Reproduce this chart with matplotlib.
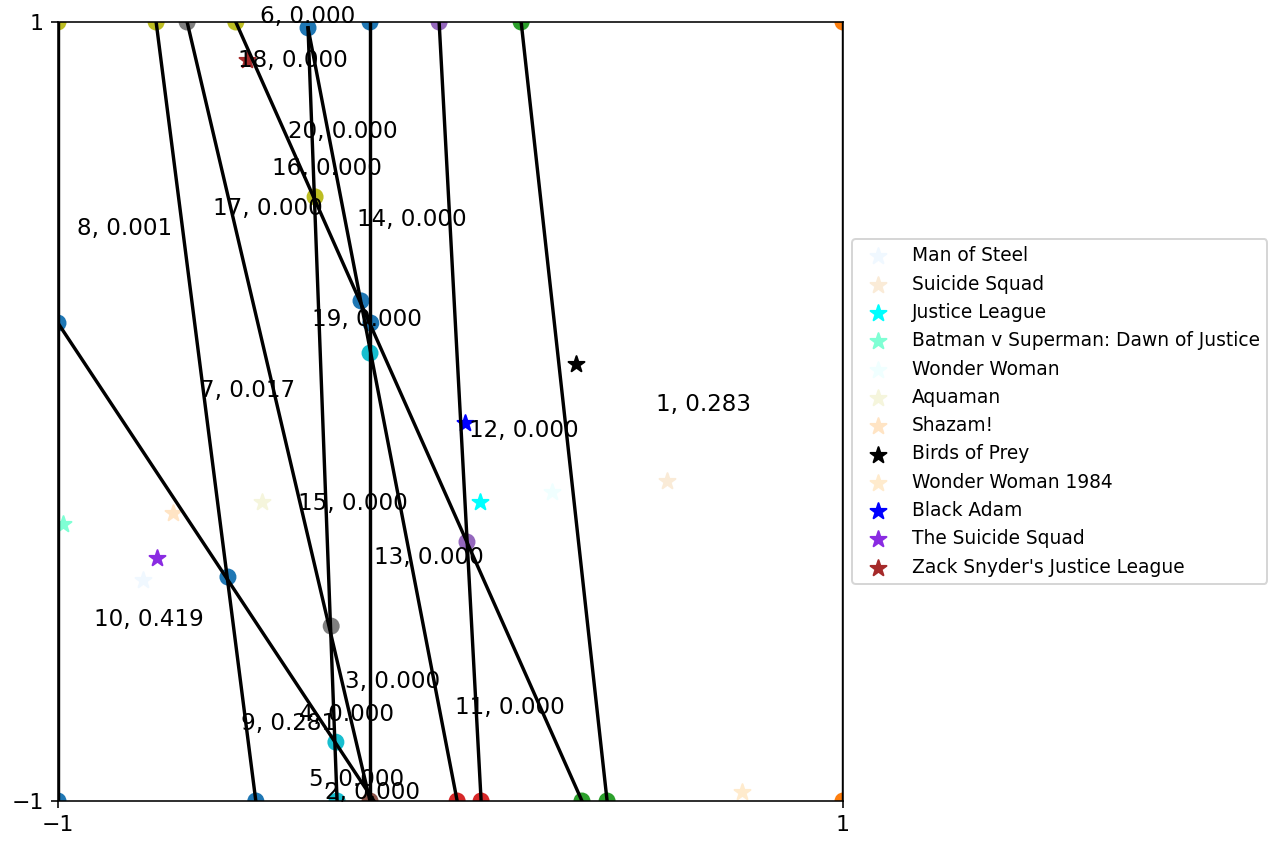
import matplotlib.pyplot as plt
import numpy as np

# films (stars) and their positions
films = ["Man of Steel", "Suicide Squad", "Justice League",
         "Batman v Superman: Dawn of Justice", "Wonder Woman", "Aquaman",
         "Shazam!", "Birds of Prey", "Wonder Woman 1984", "Black Adam",
         "The Suicide Squad", "Zack Snyder's Justice League"]
film_colors = ["aliceblue", "antiquewhite", "aqua", "aquamarine", "azure", "beige",
               "bisque", "black", "blanchedalmond", "blue", "blueviolet", "brown"]
film_x = [-0.783, 0.552, 0.075, -0.987, 0.259, -0.480, -0.707, 0.320, 0.743, 0.037, -0.748, -0.518]
film_y = [-0.433, -0.178, -0.232, -0.289, -0.207, -0.232, -0.261, 0.122, -0.977, -0.030, -0.376, 0.902]

# cutting lines (start / end points)
line_x0 = [1.0, -1.0, -0.750, -0.671, -0.547, -0.363, -0.363, -0.205, -0.029, 0.180, -1.0]
line_y0 = [1.0, 1.0, 1.0, 1.0, 1.0, 0.985, 0.985, 1.0, 1.0, 1.0, 0.227]
line_x1 = [1.0, -1.0, -0.496, -0.205, 0.335, 0.017, -0.289, -0.205, 0.078, 0.399, -0.195]
line_y1 = [-1.0, -1.0, -1.0, -1.0, -1.0, -1.0, -1.0, -1.0, -1.0, -1.0, -1.0]

# intersection points
pt_x = [-1.0, -1.0, -0.496, -0.363, -0.205, -0.228, -0.203, -0.567,
        1.0, 1.0,
        0.180, 0.335, 0.399,
        0.017, 0.078,
        -0.029, 0.042,
        -0.205,
        -0.671, -0.304,
        -1.0, -0.750, -0.547, -0.345,
        -0.205, -0.292, -0.289]
pt_y = [0.227, -1.0, -1.0, 0.985, 1.0, 0.284, 0.227, -0.425,
        1.0, -1.0,
        1.0, -1.0, -1.0,
        -1.0, -1.0,
        1.0, -0.335,
        -1.0,
        1.0, -0.551,
        1.0, 1.0, 1.0, 0.551,
        0.150, -0.849, -1.0]
pt_c = ["C0"] * 8 + ["C1"] * 2 + ["C2"] * 3 + ["C3"] * 2 + ["C4"] * 2 + ["C5"] + ["C7"] * 2 + ["C8"] * 4 + ["C9"] * 3

# region labels
region_id = [1, 2, 3, 4, 5, 6, 7, 8, 9, 10, 11, 12, 13, 14, 15, 16, 17, 18, 19, 20]
region_p = [0.283, 0.000, 0.000, 0.000, 0.000, 0.000, 0.017, 0.001, 0.281, 0.419,
            0.000, 0.000, 0.000, 0.000, 0.000, 0.000, 0.000, 0.000, 0.000, 0.000]
label_x = [0.524, -0.320, -0.269, -0.386, -0.361, -0.485, -0.638, -0.952, -0.534, -0.908,
           0.011, 0.047, -0.195, -0.238, -0.389, -0.455, -0.605, -0.541, -0.353, -0.414]
label_y = [0.017, -0.977, -0.692, -0.779, -0.946, 1.015, 0.055, 0.469, -0.800, -0.533,
           -0.761, -0.050, -0.374, 0.492, -0.235, 0.625, 0.520, 0.902, 0.237, 0.718]

fig = plt.figure(figsize=(1275 / 144, 841 / 144), dpi=144)
ax = fig.add_axes([58 / 1275, 40 / 841, 785 / 1275, 779 / 841])

ax.scatter(pt_x, pt_y, c=pt_c, s=56)
for x0, y0, x1, y1 in zip(line_x0, line_y0, line_x1, line_y1):
    ax.plot([x0, x1], [y0, y1], 'k-', linewidth=1.7)

for name, col, x, y in zip(films, film_colors, film_x, film_y):
    ax.scatter(x, y, marker='*', color=col, s=70, label=name)

for i, p, x, y in zip(region_id, region_p, label_x, label_y):
    ax.text(x, y, f"{i}, {p:.3f}", fontsize=11.5, va='center', ha='left')

ax.set_xlim(-1, 1)
ax.set_ylim(-1, 1)
ax.set_xticks([-1, 1])
ax.set_yticks([-1, 1])
ax.tick_params(labelsize=11)
ax.legend(loc='center left', bbox_to_anchor=(1.0, 0.5), fontsize=9.3)

fig.savefig("out.png", dpi=144)
